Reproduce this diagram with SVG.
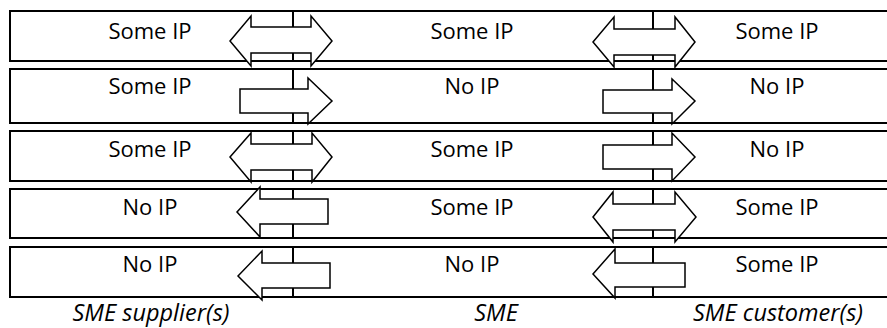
<svg xmlns="http://www.w3.org/2000/svg" width="887" height="328" viewBox="0 0 887 328">
<style>
.row{fill:none;stroke:#000;stroke-width:2}
.div{stroke:#000;stroke-width:2}
.arr{fill:#fff;stroke:#000;stroke-width:1.5;stroke-linejoin:miter}
.t{font-family:"Open Sans","Liberation Sans",sans-serif;font-size:22px;fill:#000;text-anchor:middle}
.lab{font-family:"Open Sans","Liberation Sans",sans-serif;font-size:23.5px;font-style:italic;fill:#000;text-anchor:middle}
</style>
<rect width="887" height="328" fill="#fff"/>
<g id="row1">
<rect class="row" x="10" y="11" width="900" height="50"/>
<line class="div" x1="293" y1="11" x2="293" y2="61"/>
<line class="div" x1="653" y1="11" x2="653" y2="61"/>
<text class="t" x="150" y="39">Some IP</text>
<text class="t" x="472" y="39">Some IP</text>
<text class="t" x="777" y="39">Some IP</text>
</g>
<g id="row2">
<rect class="row" x="10" y="69" width="900" height="54"/>
<line class="div" x1="293" y1="69" x2="293" y2="123"/>
<line class="div" x1="653" y1="69" x2="653" y2="123"/>
<text class="t" x="150" y="94">Some IP</text>
<text class="t" x="472" y="94">No IP</text>
<text class="t" x="777" y="94">No IP</text>
</g>
<g id="row3">
<rect class="row" x="10" y="131" width="900" height="50"/>
<line class="div" x1="293" y1="131" x2="293" y2="181"/>
<line class="div" x1="653" y1="131" x2="653" y2="181"/>
<text class="t" x="150" y="157">Some IP</text>
<text class="t" x="472" y="157">Some IP</text>
<text class="t" x="777" y="157">No IP</text>
</g>
<g id="row4">
<rect class="row" x="10" y="189" width="900" height="49"/>
<line class="div" x1="293" y1="189" x2="293" y2="238"/>
<line class="div" x1="653" y1="189" x2="653" y2="238"/>
<text class="t" x="150" y="215">No IP</text>
<text class="t" x="472" y="215">Some IP</text>
<text class="t" x="777" y="215">Some IP</text>
</g>
<g id="row5">
<rect class="row" x="10" y="247" width="900" height="50"/>
<line class="div" x1="293" y1="247" x2="293" y2="297"/>
<line class="div" x1="653" y1="247" x2="653" y2="297"/>
<text class="t" x="150" y="272">No IP</text>
<text class="t" x="472" y="272">No IP</text>
<text class="t" x="777" y="272">Some IP</text>
</g>
<g id="connectors">
<polygon class="arr" points="230,41 251,16 251,27 311,27 311,16 332,41 311,66 311,53 251,53 251,66"/>
<polygon class="arr" points="593,42 614,17 614,29 675,29 675,17 695,42 675,67 675,55 614,55 614,67"/>
<polygon class="arr" points="240,89 308,89 308,78 332,101 308,124 308,113 240,113"/>
<polygon class="arr" points="603,90 672,90 672,79 695,101 672,124 672,113 603,113"/>
<polygon class="arr" points="230,157 251,133 251,144 312,144 312,133 332,157 312,182 312,170 251,170 251,182"/>
<polygon class="arr" points="603,145 672,145 672,133 695,157 672,181 672,169 603,169"/>
<polygon class="arr" points="237,212 260,187 260,199 328,199 328,224 260,224 260,237"/>
<polygon class="arr" points="593,217 613,192 613,204 675,204 675,192 696,217 675,242 675,230 613,230 613,242"/>
<polygon class="arr" points="238,276 262,251 262,263 330,263 330,288 262,288 262,300"/>
<polygon class="arr" points="593,274 615,249 615,263 685,263 685,287 615,287 615,298"/>
</g>
<g id="labels">
<text class="lab" x="151" y="321">SME supplier(s)</text>
<text class="lab" x="496" y="321">SME</text>
<text class="lab" x="778" y="321">SME customer(s)</text>
</g>
</svg>
